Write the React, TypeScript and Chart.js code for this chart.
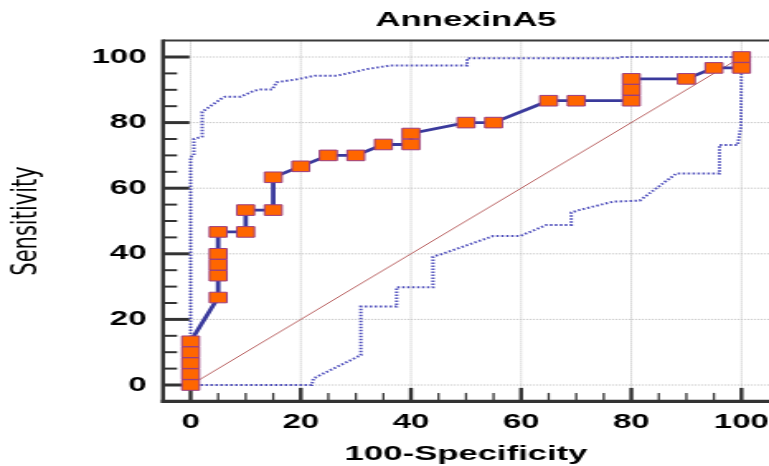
import { useEffect, useRef } from 'react';
import { Chart, registerables } from 'chart.js';

Chart.register(...registerables);

// ---- data ----
const chartTitle = 'AnnexinA5';
const xTitle = '100-Specificity';
const yTitle = 'Sensitivity';

const rocX = [0, 0, 0, 0, 0, 5, 5, 5, 5, 5, 10, 10, 15, 15, 20, 25, 30, 35, 40, 40, 50, 55, 65, 70, 80, 80, 80, 90, 95, 100, 100];
const rocY = [0, 3.33, 6.67, 10, 13.33, 26.67, 33.33, 36.67, 40, 46.67, 46.67, 53.33, 53.33, 63.33, 66.67, 70, 70, 73.33, 73.33, 76.67, 80, 80, 86.67, 86.67, 86.67, 90, 93.33, 93.33, 96.67, 96.67, 100];

const upperX = [0, 0, 0.6, 0.6, 2.1, 2.1, 3.6, 5.4, 6.3, 9.1, 11.5, 12.7, 14.8, 15.6, 19.3, 22.6, 26.6, 32, 36.2, 50.2, 50.2, 77.3, 78, 100];
const upperY = [0, 69.5, 70, 75, 75.7, 83.3, 85, 87.1, 87.9, 87.9, 89.7, 90.1, 90.1, 92.3, 93.2, 94.3, 94.3, 96.3, 97.4, 97.4, 99.6, 99.6, 100, 100];

const lowerX = [0, 22, 22.3, 30.9, 30.9, 37.4, 37.4, 44, 44, 45.9, 54.9, 59.8, 64.6, 69.1, 69.1, 70.7, 76.7, 81.5, 88.2, 96, 96, 99.3, 99.9, 100];
const lowerY = [0, 0, 2, 9.1, 23.9, 23.9, 29.8, 29.8, 39.1, 40.1, 45.4, 45.4, 48.8, 48.8, 52.6, 53.4, 55.9, 56.2, 64.5, 64.5, 73.2, 73.2, 78.7, 100];

const diagX = [0, 100];
const diagY = [0, 100];

const majorTicks = [0, 20, 40, 60, 80, 100];
const minorTicks = [5, 10, 15, 25, 30, 35, 45, 50, 55, 65, 70, 75, 85, 90, 95];
const axisMin = -5;
const axisMax = 105;

const pts = (xs: number[], ys: number[]) => xs.map((x, i) => ({ x, y: ys[i] }));

const SANS = "'Liberation Sans', Arial, sans-serif";
const AXIS = '#333333';

const axesPlugin = {
  id: 'rocAxes',
  beforeDatasetsDraw(chart: any) {
    const { ctx, chartArea: a, scales } = chart;
    const xs = scales.x;
    const ys = scales.y;
    const line = (x1: number, y1: number, x2: number, y2: number) => {
      ctx.beginPath();
      ctx.moveTo(x1, y1);
      ctx.lineTo(x2, y2);
      ctx.stroke();
    };
    ctx.save();
    // dotted grid
    ctx.strokeStyle = '#bcbcbc';
    ctx.lineWidth = 1;
    ctx.setLineDash([1, 1]);
    for (const v of majorTicks) {
      const px = xs.getPixelForValue(v);
      line(px, a.top, px, a.bottom);
      const py = ys.getPixelForValue(v);
      line(a.left, py, a.right, py);
    }
    ctx.setLineDash([]);
    ctx.strokeStyle = AXIS;
    ctx.lineCap = 'butt';
    // y ticks (inside)
    for (const v of majorTicks) {
      const py = ys.getPixelForValue(v);
      ctx.lineWidth = 3;
      line(a.left, py, a.left + 16, py);
    }
    for (const v of minorTicks) {
      const py = ys.getPixelForValue(v);
      ctx.lineWidth = 2;
      line(a.left, py, a.left + 8.5, py);
    }
    // x ticks (inside)
    for (const v of majorTicks) {
      const px = xs.getPixelForValue(v);
      ctx.lineWidth = 2.4;
      line(px, a.bottom, px, a.bottom - 13.5);
    }
    for (const v of minorTicks) {
      const px = xs.getPixelForValue(v);
      ctx.lineWidth = 1.3;
      line(px, a.bottom, px, a.bottom - 8.5);
    }
    // frame: top thin, left and bottom thick
    ctx.lineWidth = 2;
    ctx.strokeStyle = '#3a3a3a';
    line(a.left, a.top, a.right, a.top);
    ctx.strokeStyle = AXIS;
    ctx.lineWidth = 2.4;
    line(a.left, a.top - 1, a.left, a.bottom + 1.6);
    ctx.lineWidth = 3.3;
    line(a.left - 1.2, a.bottom, a.right, a.bottom);
    ctx.restore();
  },
};

export default function App() {
  const ref = useRef<HTMLCanvasElement | null>(null);

  useEffect(() => {
    if (!ref.current) return;
    const setTicks = (s: any) => {
      s.ticks = majorTicks.map((v) => ({ value: v }));
    };
    const chart = new Chart(ref.current, {
      type: 'scatter',
      data: {
        datasets: [
          {
            data: pts(rocX, rocY),
            showLine: true,
            borderColor: '#3a3a9c',
            borderWidth: 2.8,
            pointStyle: 'rect',
            pointRadius: 7.5,
            pointBackgroundColor: '#ff6600',
            pointBorderColor: '#9a3d80',
            pointBorderWidth: 1,
            tension: 0,
          },
          {
            data: pts(upperX, upperY),
            showLine: true,
            borderColor: '#5050bc',
            borderWidth: 2,
            borderDash: [1.5, 1.5],
            pointRadius: 0,
            tension: 0,
          },
          {
            data: pts(lowerX, lowerY),
            showLine: true,
            borderColor: '#5050bc',
            borderWidth: 2,
            borderDash: [1.5, 1.5],
            pointRadius: 0,
            tension: 0,
          },
          {
            data: pts(diagX, diagY),
            showLine: true,
            borderColor: '#b86060',
            borderWidth: 1,
            pointRadius: 0,
          },
        ],
      },
      options: {
        responsive: false,
        animation: false,
        devicePixelRatio: 1,
        events: [],
        layout: { padding: 0, autoPadding: false },
        plugins: {
          legend: { display: false },
          tooltip: { enabled: false },
          title: {
            display: true,
            text: chartTitle,
            fullSize: false,
            color: '#000',
            font: { family: SANS, size: 21, weight: 'bold', lineHeight: 1.2 },
            padding: { top: 8, bottom: 7.4 },
          },
        },
        scales: {
          x: {
            type: 'linear',
            min: axisMin,
            max: axisMax,
            afterBuildTicks: setTicks,
            afterFit: (s: any) => {
              s.height = 64.6;
              s.paddingLeft = 0;
              s.paddingRight = 0;
            },
            grid: { display: false, drawTicks: false },
            border: { display: false },
            ticks: {
              color: '#000',
              font: { family: SANS, size: 20, weight: 'bold' },
              padding: 9,
              autoSkip: false,
              maxRotation: 0,
            },
            title: {
              display: true,
              text: xTitle,
              color: '#000',
              font: { family: SANS, size: 21, weight: 'bold', lineHeight: 1 },
              padding: { top: 0, bottom: 1.5 },
            },
          },
          y: {
            type: 'linear',
            min: axisMin,
            max: axisMax,
            afterBuildTicks: setTicks,
            afterFit: (s: any) => {
              s.width = 98.8;
              s.paddingTop = 0;
              s.paddingBottom = 0;
            },
            grid: { display: false, drawTicks: false },
            border: { display: false },
            ticks: {
              color: '#000',
              font: { family: SANS, size: 20, weight: 'bold' },
              padding: 10,
              autoSkip: false,
            },
            title: {
              display: true,
              text: yTitle,
              color: '#000',
              font: { family: "'DejaVu Sans', sans-serif", size: 21, weight: 'normal', lineHeight: 1.2 },
              padding: { top: 3.5, bottom: 0 },
            },
          },
        },
      },
      plugins: [axesPlugin],
    } as any);
    return () => chart.destroy();
  }, []);

  return (
    <div style={{ position: 'fixed', left: 0, top: 0, width: 769, height: 466, background: '#fff' }}>
      <canvas
        ref={ref}
        width={466}
        height={466}
        style={{ display: 'block', width: '769px', height: '466px' }}
      />
    </div>
  );
}
